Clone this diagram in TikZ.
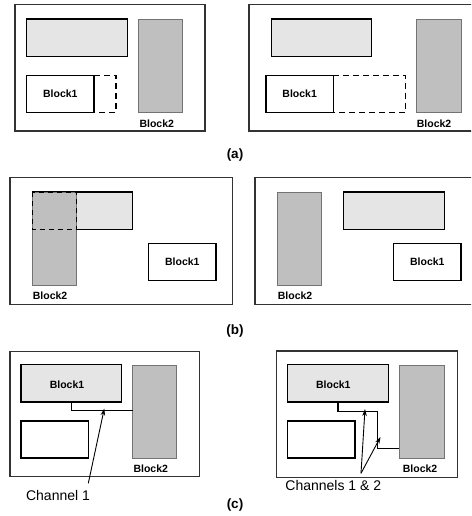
\documentclass[tikz,border=0pt]{standalone}
\usepackage{fontspec}
\setmainfont{Liberation Sans}
\usetikzlibrary{arrows.meta}

% \putblock{style}{name}{x1}{y1}{x2}{y2}{text}: box from top-left (x1,y1) to bottom-right (x2,y2)
\newcommand{\putblock}[7]{%
  \node[#1, minimum width={#5pt-#3pt}, minimum height={#6pt-#4pt}] (#2) at (#3,#4) {#7};}

\tikzset{
  box/.style={anchor=north west, inner sep=0pt, outer sep=0pt},
  frame/.style={box, draw=black!80, line width=1.3pt},
  lightblk/.style={box, draw=black, fill=black!10, line width=1.4pt},
  darkblk/.style={box, draw=black!55, fill=black!25, line width=0.9pt},
  whiteblk/.style={box, draw=black, fill=white, line width=1.4pt, font=\lblfont},
  ghost/.style={box},
  lbl/.style={font=\lblfont, inner sep=0pt},
  caption/.style={font=\bfseries\fontsize{13.5}{15}\selectfont, inner sep=0pt},
  chan/.style={font=\fontsize{14}{16}\selectfont, inner sep=0pt},
  wire/.style={line width=1.2pt},
  pointer/.style={line width=0.9pt, -{Stealth[length=7pt,width=4.5pt]}},
  ghostline/.style={line width=1.4pt, dash pattern=on 6pt off 4pt},
}
\newcommand{\lblfont}{\bfseries\fontsize{10.5}{12}\selectfont}

\begin{document}
\begin{tikzpicture}[x=1pt, y=-1pt]
\useasboundingbox (0,0) rectangle (471,516);
\clip (0,0) rectangle (471,516);

% ---------------- (a) ----------------
\putblock{frame}{fa1}{15}{4.7}{205}{131}{}
\putblock{lightblk}{la1}{26.7}{19}{127.3}{56.3}{}
\putblock{darkblk}{da1}{138.3}{19}{182.7}{112.3}{}
\putblock{whiteblk}{ba1}{26.7}{75.3}{94}{112.3}{Block1}
\putblock{ghost}{ga1}{94}{75.3}{116}{112.3}{}
\draw[ghostline] (ba1.north east) -- (ga1.north east) -- (ga1.south east) -- (ba1.south east);
\node[lbl, anchor=west] (ta1) at (139.3,123.3) {Block2};

\putblock{frame}{fa2}{249}{4.7}{480}{131}{}
\putblock{lightblk}{la2}{271.7}{19}{371.7}{56.3}{}
\putblock{darkblk}{da2}{416.7}{19}{461}{112.3}{}
\putblock{whiteblk}{ba2}{266}{75.3}{333.3}{112.3}{Block1}
\putblock{ghost}{ga2}{333.3}{75.3}{405.7}{112.3}{}
\draw[ghostline] (ba2.north east) -- (ga2.north east) -- (ga2.south east) -- (ba2.south east);
\node[lbl, anchor=west] (ta2) at (416.7,123.3) {Block2};

\node[caption] (capa) at (235,155) {(a)};

% ---------------- (b) ----------------
\putblock{frame}{fb1}{10}{177.3}{232.7}{304.3}{}
\putblock{lightblk}{lb1}{32.3}{192}{132.7}{229.7}{}
\putblock{darkblk}{db1}{32.3}{192}{76.7}{285.3}{}
\draw[ghostline, dash pattern=on 5pt off 4pt] (lb1.north west) rectangle (db1.east |- lb1.south);
\putblock{whiteblk}{bb1}{148.7}{243.3}{216}{280.7}{Block1}
\node[lbl, anchor=west] (tb1) at (32.7,296) {Block2};

\putblock{frame}{fb2}{255}{177.3}{480}{304.3}{}
\putblock{darkblk}{db2}{277.3}{192}{321.7}{285.3}{}
\putblock{lightblk}{lb2}{343.7}{192}{444.3}{229.7}{}
\putblock{whiteblk}{bb2}{393.7}{243.3}{461}{280.7}{Block1}
\node[lbl, anchor=west] (tb2) at (277.7,296) {Block2};

\node[caption] (capb) at (235,331) {(b)};

% ---------------- (c) ----------------
\putblock{frame}{fc1}{10}{351.3}{199.7}{476.7}{}
\putblock{lightblk}{lc1}{21}{364.7}{121.7}{402}{}
\node[lbl] (nc1) at (67,385) {Block1};
\putblock{darkblk}{dc1}{132.7}{365}{176.7}{458}{}
\putblock{whiteblk}{wc1}{21}{421}{88.3}{458}{}
\node[lbl, anchor=west] (tc1) at (133.3,468.3) {Block2};
\draw[wire] (lc1.south) -- ++(0,8.7) coordinate (kc1) -- (kc1 -| dc1.west);
\coordinate (hit1) at (104.3,408.5);
\coordinate (src1) at (88.3,483.3);
\node[chan] (ch1) at (58,495.7) {Channel 1};
\draw[pointer] (src1) -- (hit1);

\putblock{frame}{fc2}{276.7}{351}{457.3}{477.3}{}
\putblock{lightblk}{lc2}{287.7}{364.7}{388.3}{402}{}
\node[lbl] (nc2) at (333.3,384.3) {Block1};
\putblock{darkblk}{dc2}{399.3}{365}{444.3}{458}{}
\putblock{whiteblk}{wc2}{287.7}{421}{355}{458}{}
\node[lbl, anchor=west] (tc2) at (402.7,469) {Block2};
\draw[wire] (lc2.south) -- ++(0,9.3) -- ++(39.6,0) coordinate (kc2)
  -- ++(0,37.4) coordinate (kc3) -- (kc3 -| dc2.west);
\coordinate (hit2) at (365,409);
\coordinate (hit3) at (380.5,437);
\coordinate (src2) at (361,473.3);
\node[chan] (ch2) at (333.3,485.7) {Channels 1 \& 2};
\draw[pointer] (src2) -- (hit2);
\draw[pointer] (src2) -- (hit3);

\node[caption] (capc) at (235,505) {(c)};
\end{tikzpicture}
\end{document}
